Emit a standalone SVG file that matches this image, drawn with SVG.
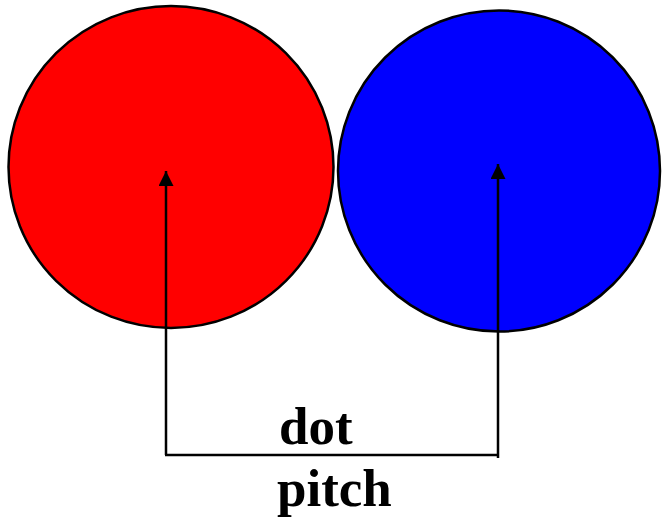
<svg xmlns="http://www.w3.org/2000/svg" width="662" height="518" viewBox="0 0 662 518">
<style>
.dot{stroke:#000;stroke-width:2.5}
.lbl{font-family:"Liberation Serif","Times New Roman",serif;font-weight:bold;font-size:53px;fill:#000}
.con{fill:none;stroke:#000;stroke-width:2.5}
</style>
<defs>
<marker id="ah" viewBox="0 0 15 15" refX="15" refY="7.5" markerWidth="15" markerHeight="15" markerUnits="userSpaceOnUse" orient="auto">
<path d="M0,0 L15,7.5 L0,15 Z" fill="#000"/>
</marker>
</defs>
<rect width="662" height="518" fill="#fff"/>
<g id="red-dot"><ellipse class="dot" cx="171" cy="167" rx="162.5" ry="161" fill="#ff0000"/></g>
<g id="blue-dot"><ellipse class="dot" cx="499" cy="171" rx="161" ry="160.5" fill="#0000ff"/></g>
<g id="connectors">
<polyline class="con" points="166,455 166,171" marker-end="url(#ah)"/>
<polyline class="con" points="165,455 498,455"/>
<polyline class="con" points="498,458 498,164" marker-end="url(#ah)"/>
</g>
<g id="label">
<text class="lbl" x="279" y="444">dot</text>
<text class="lbl" x="277" y="506">pitch</text>
</g>
</svg>
